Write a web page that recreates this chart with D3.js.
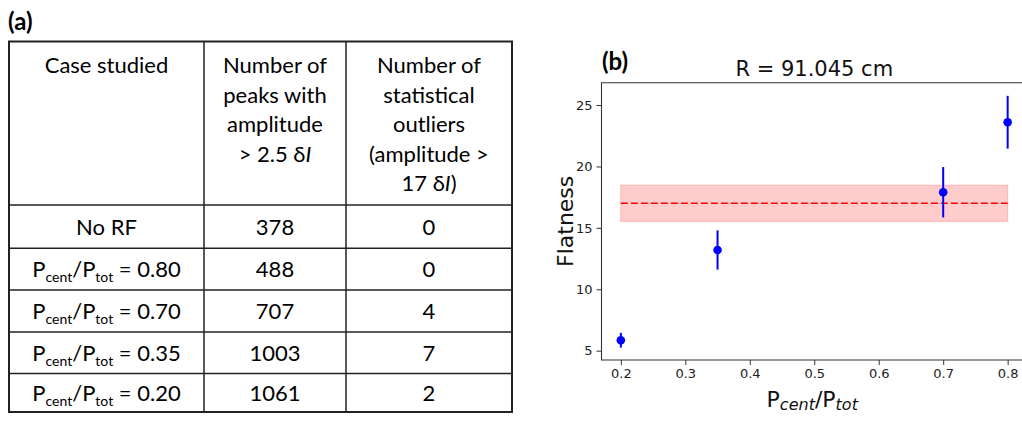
<!DOCTYPE html>
<html>
<head>
<meta charset="utf-8">
<script src="https://cdn.jsdelivr.net/npm/d3@7"></script>
<style>
  body { margin: 0; background: #fff; }
  svg { display: block; }
</style>
</head>
<body>
<svg id="fig" width="1022" height="421"></svg>
<script>
// table (a)
var headCase = ["Case studied"];
var headPeaks = ["Number of", "peaks with", "amplitude", "> 2.5 δ|I"];
var headOutliers = ["Number of", "statistical", "outliers", "(amplitude  >", "17 δ|I)"];
var cases = ["No RF", "0.80", "0.70", "0.35", "0.20"];
var peaks = [378, 488, 707, 1003, 1061];
var outliers = [0, 0, 4, 7, 2];

// plot (b)
var ratio = [0.2, 0.35, 0.7, 0.8];
var flatness = [5.85, 13.2, 17.9, 23.6];
var flatErr = [0.6, 1.6, 2.05, 2.15];
var meanFlat = 17.0;
var meanErr = 1.47;
var xTicks = [0.2, 0.3, 0.4, 0.5, 0.6, 0.7, 0.8];
var yTicks = [5, 10, 15, 20, 25];

var svg = d3.select("#fig");
var tFont = "Lato, 'Open Sans', sans-serif";
var mFont = "'DejaVu Sans', sans-serif";

// ---------- (a) table ----------
svg.append("text")
    .attr("x", 8).attr("y", 30)
    .style("font-family", tFont).style("font-weight", "bold").style("font-size", "24px")
    .text("(a)");

var colX = [9, 204, 346, 512];
var rowY = [41.5, 205, 248.3, 290, 332, 373.5, 412];
var tbl = svg.append("g");

// grid lines
rowY.forEach(function (y, i) {
    tbl.append("line")
        .attr("x1", colX[0] - 1).attr("x2", colX[3] + 1).attr("y1", y).attr("y2", y)
        .attr("stroke", "#222").attr("stroke-width", (i == 0 || i == rowY.length - 1) ? 2 : 1.5);
});
colX.forEach(function (x, i) {
    tbl.append("line")
        .attr("x1", x).attr("x2", x).attr("y1", rowY[0]).attr("y2", rowY[rowY.length - 1])
        .attr("stroke", "#222").attr("stroke-width", (i == 0 || i == colX.length - 1) ? 2 : 1.5);
});

function colMid(i) { return (colX[i] + colX[i + 1]) / 2; }

// text with "|I" meaning italic I
function addLine(g, x, y, str) {
    var t = g.append("text")
        .attr("x", x).attr("y", y).attr("text-anchor", "middle")
        .style("font-family", tFont).style("font-size", "22px").attr("fill", "#000");
    var parts = str.split("|");
    t.append("tspan").text(parts[0]);
    if (parts.length > 1) {
        t.append("tspan").style("font-style", "italic").text(parts[1].charAt(0));
        t.append("tspan").text(parts[1].slice(1));
    }
    return t;
}

var headBase = 73, lineGap = 29.5;
[headCase, headPeaks, headOutliers].forEach(function (lines, c) {
    lines.forEach(function (s, k) {
        addLine(tbl, colMid(c), headBase + k * lineGap, s);
    });
});

cases.forEach(function (c, r) {
    var yb = (rowY[r + 1] + rowY[r + 2]) / 2 + 8;
    if (r == 0) {
        addLine(tbl, colMid(0), yb, c);
    } else {
        var t = tbl.append("text")
            .attr("x", colMid(0)).attr("y", yb).attr("text-anchor", "middle")
            .style("font-family", tFont).style("font-size", "22px").attr("fill", "#000");
        t.append("tspan").text("P");
        t.append("tspan").attr("dy", 5).style("font-size", "14px").text("cent");
        t.append("tspan").attr("dy", -5).text("/P");
        t.append("tspan").attr("dy", 5).style("font-size", "14px").text("tot");
        t.append("tspan").attr("dy", -5).text(" = " + c);
    }
    addLine(tbl, colMid(1), yb, String(peaks[r]));
    addLine(tbl, colMid(2), yb, String(outliers[r]));
});

// ---------- (b) plot ----------
var pLeft = 601.5, pRight = 1027, pTop = 82.7, pBottom = 360;
var x = d3.scaleLinear().domain([0.17, 0.83]).range([pLeft, pRight]);
var y = d3.scaleLinear().domain([4.24, 26.82]).range([pBottom, pTop]);

svg.append("text")
    .attr("x", 602).attr("y", 70)
    .style("font-family", tFont).style("font-weight", "bold").style("font-size", "24px")
    .text("(b)");

svg.append("text")
    .attr("x", (pLeft + pRight) / 2).attr("y", 76).attr("text-anchor", "middle")
    .style("font-family", mFont).style("font-size", "21px").attr("fill", "#111")
    .text("R = 91.045 cm");

// mean band and line
svg.append("rect")
    .attr("x", x(ratio[0])).attr("width", x(ratio[ratio.length - 1]) - x(ratio[0]))
    .attr("y", y(meanFlat + meanErr)).attr("height", y(meanFlat - meanErr) - y(meanFlat + meanErr))
    .attr("fill", "#ffcccc").attr("stroke", "#ffb3b3").attr("stroke-width", 1);
svg.append("line")
    .attr("x1", x(ratio[0])).attr("x2", x(ratio[ratio.length - 1]))
    .attr("y1", y(meanFlat)).attr("y2", y(meanFlat))
    .attr("stroke", "#ff0000").attr("stroke-width", 1.6).attr("stroke-dasharray", "7,3");

// error bars and points
var pts = ratio.map(function (r, i) { return { r: r, f: flatness[i], e: flatErr[i] }; });
svg.selectAll(".err").data(pts).enter().append("line")
    .attr("x1", function (d) { return x(d.r); }).attr("x2", function (d) { return x(d.r); })
    .attr("y1", function (d) { return y(d.f - d.e); }).attr("y2", function (d) { return y(d.f + d.e); })
    .attr("stroke", "#0000ff").attr("stroke-width", 2);
svg.selectAll(".pt").data(pts).enter().append("circle")
    .attr("cx", function (d) { return x(d.r); }).attr("cy", function (d) { return y(d.f); })
    .attr("r", 4.3).attr("fill", "#0000ff");

// axes
var xAxis = svg.append("g").attr("transform", "translate(0," + pBottom + ")")
    .call(d3.axisBottom(x).tickValues(xTicks).tickSize(5).tickPadding(4).tickFormat(d3.format(".1f")));
var yAxis = svg.append("g").attr("transform", "translate(" + pLeft + ",0)")
    .call(d3.axisLeft(y).tickValues(yTicks).tickSize(5).tickPadding(4));
[xAxis, yAxis].forEach(function (a) {
    a.select(".domain").remove();
    a.selectAll("line").attr("stroke", "#333");
    a.selectAll("text").style("font-family", mFont).style("font-size", "13px").attr("fill", "#222");
});

// spines
svg.append("path")
    .attr("d", "M" + pRight + "," + pBottom + "H" + pLeft + "V" + pTop + "H" + pRight)
    .attr("fill", "none").attr("stroke", "#333").attr("stroke-width", 1.1);

// labels
svg.append("text")
    .attr("transform", "translate(573," + ((pTop + pBottom) / 2) + ") rotate(-90)")
    .attr("text-anchor", "middle")
    .style("font-family", mFont).style("font-size", "22px").attr("fill", "#111")
    .text("Flatness");

var xl = svg.append("text")
    .attr("x", (pLeft + pRight) / 2 - 2).attr("y", 407).attr("text-anchor", "middle")
    .style("font-family", mFont).style("font-size", "22px").attr("fill", "#111");
xl.append("tspan").text("P");
xl.append("tspan").attr("dy", 3).style("font-size", "16px").style("font-style", "italic").text("cent");
xl.append("tspan").attr("dy", -3).text("/P");
xl.append("tspan").attr("dy", 3).style("font-size", "16px").style("font-style", "italic").text("tot");
</script>
</body>
</html>
